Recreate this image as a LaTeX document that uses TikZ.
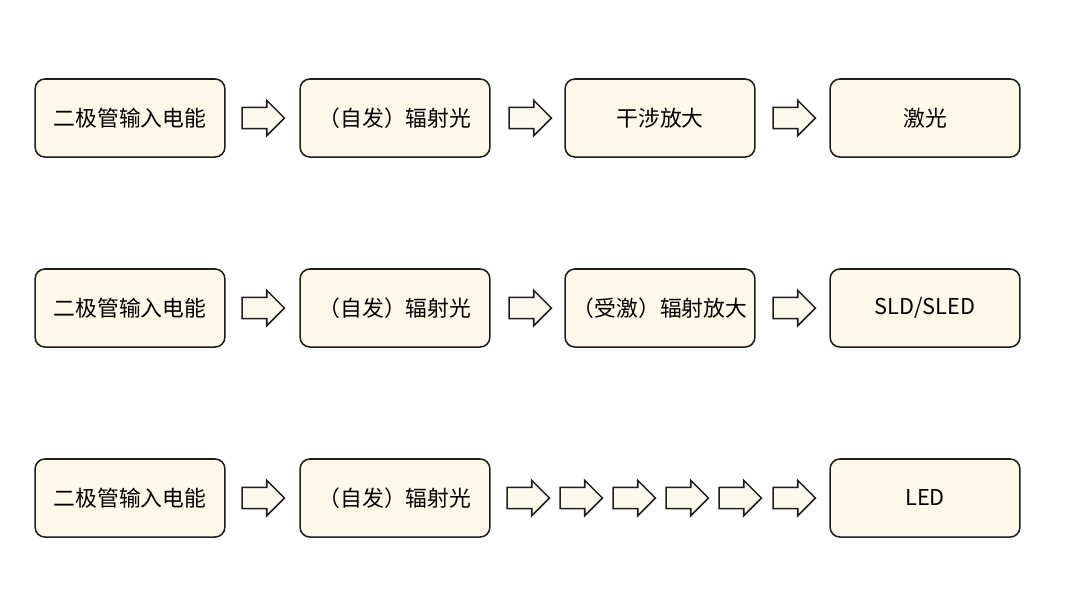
\documentclass[tikz,border=0pt]{standalone}
\usepackage{fontspec}
\setmainfont{Noto Sans CJK SC}
\usetikzlibrary{shapes.arrows,positioning}
\definecolor{boxfill}{HTML}{FDF8E7}
\definecolor{arrfill}{HTML}{FBF9EC}
\definecolor{edge}{HTML}{1E1E1E}
\tikzset{every node/.style={font=\fontsize{15.5}{18}\selectfont},
  stagebox/.style={draw=edge,fill=boxfill,rounded corners=7pt,line width=1.1pt,
    minimum width=135pt,minimum height=55.5pt,inner sep=0pt},
  blockarrow/.style={single arrow,draw=edge,fill=arrfill,line width=1.1pt,
    minimum height=30pt,minimum width=0pt,single arrow head extend=5pt,
    inner xsep=0pt,inner ysep=7pt,single arrow head indent=0pt}}
\begin{document}
\begin{tikzpicture}[x=0.025cm,y=-0.025cm]
\useasboundingbox (0,0) rectangle (1080,607);
% row 1: laser
\node[stagebox] (diodeA) at (130,118) {二极管输入电能};
\node[stagebox] (spontA) at (395,118) {（自发）辐射光};
\node[stagebox] (interf) at (660,118) {干涉放大};
\node[stagebox] (laser)  at (925,118) {激光};
\foreach \x/\n in {258/1,525/2,789/3}
  \node[blockarrow] (arrA\n) at (\x,118) {};
% row 2: SLD
\node[stagebox] (diodeB) at (130,308) {二极管输入电能};
\node[stagebox] (spontB) at (395,308) {（自发）辐射光};
\node[stagebox] (stim)   at (660,308) {（受激）辐射放大};
\node[stagebox] (sld)    at (925,308) {SLD/SLED};
\foreach \x/\n in {258/1,525/2,789/3}
  \node[blockarrow] (arrB\n) at (\x,308) {};
% row 3: LED
\node[stagebox] (diodeC) at (130,498) {二极管输入电能};
\node[stagebox] (spontC) at (395,498) {（自发）辐射光};
\node[stagebox] (led)    at (925,498) {LED};
\node[blockarrow] (arrC0) at (258,498) {};
\foreach \x/\n in {523/1,576/2,629/3,682/4,735/5,789/6}
  \node[blockarrow] (arrC\n) at (\x,498) {};
\end{tikzpicture}
\end{document}
